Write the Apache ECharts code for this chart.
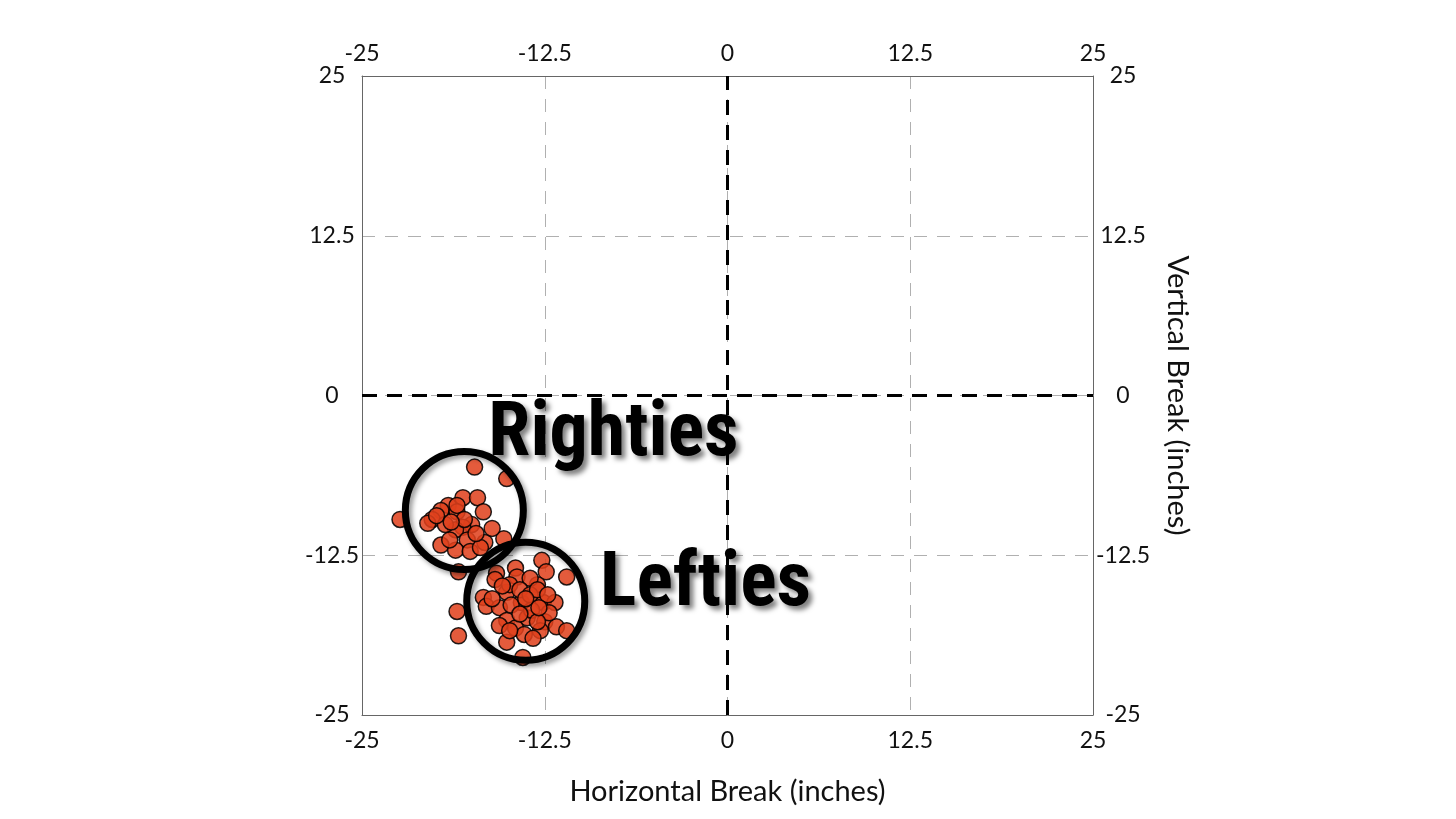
<!DOCTYPE html>
<html>
<head>
<meta charset="utf-8">
<script src="https://cdn.jsdelivr.net/npm/echarts@6/dist/echarts.min.js"></script>
<style>
html,body{margin:0;padding:0;background:#fff;}
#c{width:1456px;height:819px;}
</style>
</head>
<body>
<div id="c"></div>
<script>
// Horizontal break (inches), vertical break (inches)
const rightiesX = [-22.4,-17.3,-15.1,-18.1,-17.1,-19.1,-19.6,-20.2,-20.5,-18.5,-16.7,-17.5,-18.1,-18.6,-17.8,-19.6,-18.6,-16.6,-17.6,-15.3,-16.1,-19.3,-18.5,-18.0,-16.9,-18.4,-19.0,-19.9,-17.2,-18.9];
const rightiesY = [-9.7,-5.6,-6.5,-8.0,-8.0,-8.6,-9.0,-9.7,-10.0,-9.1,-9.1,-10.1,-10.3,-10.5,-11.3,-11.7,-12.1,-11.5,-12.2,-11.2,-10.4,-10.1,-8.6,-9.7,-11.9,-13.8,-11.3,-9.4,-10.8,-9.9];
const leftiesX = [-12.7,-11.0,-12.4,-15.8,-14.5,-14.4,-13.0,-13.5,-15.1,-16.7,-16.5,-14.1,-12.6,-11.8,-18.5,-15.6,-15.1,-13.7,-12.5,-11.7,-11.0,-15.6,-14.5,-13.9,-12.8,-15.1,-18.4,-14.0,-13.3,-15.9,-14.9,-14.2,-13.5,-13.0,-12.3,-16.1,-14.8,-13.4,-12.2,-14.2,-13.0,-14.9,-15.4,-13.8,-12.9];
const leftiesY = [-12.9,-14.2,-13.8,-13.9,-13.5,-14.2,-14.8,-14.3,-15.4,-15.8,-16.5,-16.2,-16.2,-16.2,-16.9,-16.6,-17.6,-17.4,-17.7,-18.1,-18.4,-18.0,-18.2,-18.7,-18.4,-19.3,-18.8,-20.5,-19.0,-14.4,-14.8,-15.2,-15.6,-15.2,-15.6,-15.9,-16.4,-16.8,-17.0,-17.1,-17.7,-18.4,-14.9,-15.9,-16.6];
const axisTicks = [-25, -12.5, 0, 12.5, 25];
const groupLabels = ['Righties', 'Lefties'];
const groupCenters = [[-18.0, -9.0], [-13.8, -16.1]];
const labelAnchors = [[-7.8, -3.2], [-1.5, -14.9]];
const xName = 'Horizontal Break (inches)';
const yName = 'Vertical Break (inches)';

const pts = [];
for (let i = 0; i < rightiesX.length; i++) pts.push([rightiesX[i], rightiesY[i]]);
for (let i = 0; i < leftiesX.length; i++) pts.push([leftiesX[i], leftiesY[i]]);

const chart = echarts.init(document.getElementById('c'));
const font = 'Lato, "Open Sans", sans-serif';
const gridDash = {show: true, lineStyle: {color: '#b0b0b0', type: [13, 10], width: 1}};
function xAx(pos, showSplit) {
  return {
    type: 'value', position: pos, min: axisTicks[0], max: axisTicks[axisTicks.length-1], interval: 12.5,
    axisLine: {show: true, onZero: false, lineStyle: {color: '#666', width: 1}},
    axisTick: {show: false},
    splitLine: showSplit ? gridDash : {show: false},
    axisLabel: {color: '#111', fontFamily: font, fontSize: 23, margin: pos === 'bottom' ? 14 : 11},
    name: pos === 'bottom' ? xName : '', nameLocation: 'middle', nameGap: 62,
    nameTextStyle: {color: '#111', fontFamily: font, fontSize: 29}
  };
}
function yAx(pos, showSplit) {
  return {
    type: 'value', position: pos, min: axisTicks[0], max: axisTicks[axisTicks.length-1], interval: 12.5,
    axisLine: {show: true, onZero: false, lineStyle: {color: '#666', width: 1}},
    axisTick: {show: false},
    splitLine: showSplit ? gridDash : {show: false},
    axisLabel: {color: '#111', fontFamily: font, fontSize: 23, margin: 30, align: 'center'},
    name: pos === 'right' ? yName : '', nameLocation: 'middle', nameGap: 70, nameRotate: -90,
    nameTextStyle: {color: '#111', fontFamily: font, fontSize: 29}
  };
}

chart.setOption({
  backgroundColor: '#fff',
  animation: false,
  grid: {left: 362, right: 363, top: 76, bottom: 104},
  xAxis: [xAx('bottom', true), xAx('top', false)],
  yAxis: [yAx('left', true), yAx('right', false)],
  series: [
    {
      type: 'scatter', xAxisIndex: 0, yAxisIndex: 0, data: pts, symbolSize: 16, z: 3,
      itemStyle: {color: '#e0401c', opacity: 0.86, borderColor: '#000', borderWidth: 1.5}
    },
    {
      type: 'scatter', xAxisIndex: 0, yAxisIndex: 0, data: groupCenters, symbolSize: 118, z: 4, silent: true,
      itemStyle: {color: 'rgba(0,0,0,0)', opacity: 1, borderColor: '#000', borderWidth: 7,
        shadowBlur: 5, shadowColor: 'rgba(0,0,0,0.4)', shadowOffsetX: 3, shadowOffsetY: 3}
    },
    {
      type: 'line', xAxisIndex: 0, yAxisIndex: 0, data: [], z: 5,
      markLine: {
        silent: true, symbol: 'none', label: {show: false},
        lineStyle: {color: '#000', width: 3, type: [15, 10]},
        data: [{xAxis: 0}, {yAxis: 0}]
      }
    }
  ]
});

const texts = groupLabels.map((t, i) => {
  const p = chart.convertToPixel({xAxisIndex: 0, yAxisIndex: 0}, labelAnchors[i]);
  return {
    type: 'text', x: p[0], y: p[1], z: 1,
    style: {
      text: t, fill: '#000', font: 'bold 76px "Liberation Sans Narrow", "Roboto Condensed", Roboto, sans-serif',
      textAlign: 'center', textVerticalAlign: 'middle',
      textShadowColor: 'rgba(0,0,0,0.5)', textShadowBlur: 5, textShadowOffsetX: 4, textShadowOffsetY: 4
    }
  };
});
chart.setOption({graphic: texts});
</script>
</body>
</html>
